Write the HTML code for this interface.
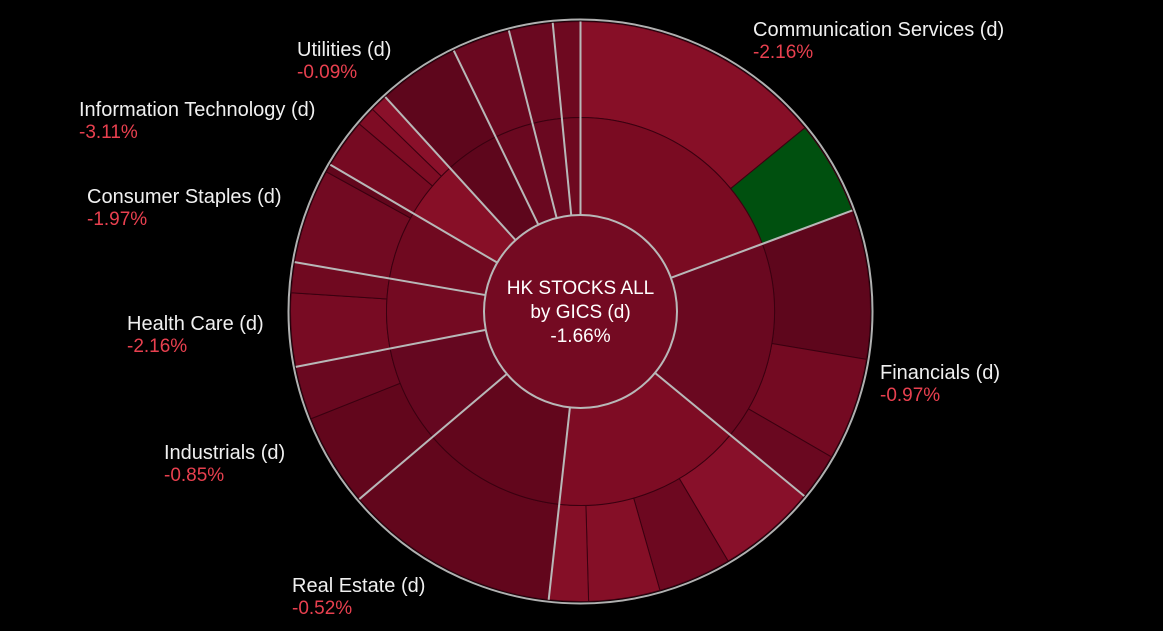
<!DOCTYPE html>
<html><head><meta charset="utf-8"><style>
html,body{margin:0;padding:0;background:#000;width:1163px;height:631px;overflow:hidden}
svg{display:block}
text{font-family:"Liberation Sans","DejaVu Sans",sans-serif}
</style></head><body>
<svg id="chart" width="1163" height="631"></svg>
<script>
const sectorNames=["Communication Services","Financials","Consumer Discretionary","Real Estate","Industrials","Health Care","Consumer Staples","Information Technology","Utilities","Energy","Materials","Conglomerates"];
const sectorChanges=["-2.16%","-0.97%","","-0.52%","-0.85%","-2.16%","-1.97%","-3.11%","-0.09%","","",""];
const sectorColors=["#7a0b22","#6a0820","#7e0c24","#62061c","#650720","#740a22","#700920","#870f27","#5e061c","#6a0820","#6a0820","#6e0920"];
const leafWeights=[[50.7,18.9],[29.9,20.6,9.4],[19.9,14.7,14.3,7.9],[43.4],[18.6,10.7],[14.7,6.1],[19.0,1.6],[9.9,3.9,3.5],[16.4],[11.6],[8.8],[5.5]];
const leafColors=[["#870f27","#00500f"],["#5e061c","#740a22","#6a0820"],["#88102a","#6d0820","#850f27","#850f27"],["#62061c"],["#62061c","#6a0820"],["#780b23","#700920"],["#720a22","#62061c"],["#760a22","#7e0c24","#8a102a"],["#5e061c"],["#6a0820"],["#6a0820"],["#6e0920"]];
const labelPos=[[753,36],[880,379],null,[292,592],[164,459],[127,330],[87,203],[79,116],[297,56],null,null,null];
const totalChange="-1.66%";

const cx=580.5,cy=311.5,r0=96.5,r1=194,r2=290;
const svg=document.getElementById('chart');
const NS="http://www.w3.org/2000/svg";
const total=leafWeights.flat().reduce((a,b)=>a+b,0);
const ang=v=>v/total*2*Math.PI;
function pt(r,a){return [cx+r*Math.sin(a),cy-r*Math.cos(a)];}
function arc(ri,ro,a0,a1){
  const L=(a1-a0)>Math.PI?1:0;
  const p0=pt(ro,a0),p1=pt(ro,a1),p2=pt(ri,a1),p3=pt(ri,a0);
  return `M${p0}A${ro},${ro} 0 ${L} 1 ${p1}L${p2}A${ri},${ri} 0 ${L} 0 ${p3}Z`;
}
function mk(tag,attrs){const e=document.createElementNS(NS,tag);for(const k in attrs)e.setAttribute(k,attrs[k]);svg.appendChild(e);return e;}

const ring=mk('circle',{cx:cx,cy:cy,r:r2+2,fill:'none',stroke:'#b0b0b0','stroke-width':2});



let cum=0;
const bounds=[];
sectorNames.forEach((name,i)=>{
  const s0=cum;
  const ws=leafWeights[i];
  let lc=cum;
  ws.forEach((w,j)=>{
    const p=mk('path',{d:arc(r1,r2,ang(lc),ang(lc+w)),fill:leafColors[i][j],stroke:'#3a0010','stroke-width':1});
    
    
    lc+=w;
  });
  cum=lc;
  const m=mk('path',{d:arc(r0,r1,ang(s0),ang(cum)),fill:sectorColors[i],stroke:'#3a0010','stroke-width':1});
  
  
  bounds.push(ang(s0));
});
bounds.forEach(a=>{
  const p0=pt(r0,a),p1=pt(r2,a);
  const l=mk('line',{x1:p0[0],y1:p0[1],x2:p1[0],y2:p1[1],stroke:'#b8b8b8','stroke-width':2});
  
  
});
const c=mk('circle',{cx:cx,cy:cy,r:r0,fill:'#740a22',stroke:'#b8b8b8','stroke-width':2});


[["HK STOCKS ALL",294,'center-title'],["by GICS (d)",318,'center-subtitle'],[totalChange,342,'center-change']].forEach(t=>{
  const e=mk('text',{x:cx,y:t[1],fill:'#fff','font-size':19,'text-anchor':'middle'});
  e.textContent=t[0];
  
  
});
sectorNames.forEach((name,i)=>{
  const lp=labelPos[i]; if(!lp) return;
  const t=mk('text',{x:lp[0],y:lp[1],fill:'#f0f0f0','font-size':20});
  t.textContent=name+' (d)';
  
  
  const v=mk('text',{x:lp[0],y:lp[1]+22,fill:'#e8404f','font-size':19});
  v.textContent=sectorChanges[i];
  
  
});
</script>
</body></html>
